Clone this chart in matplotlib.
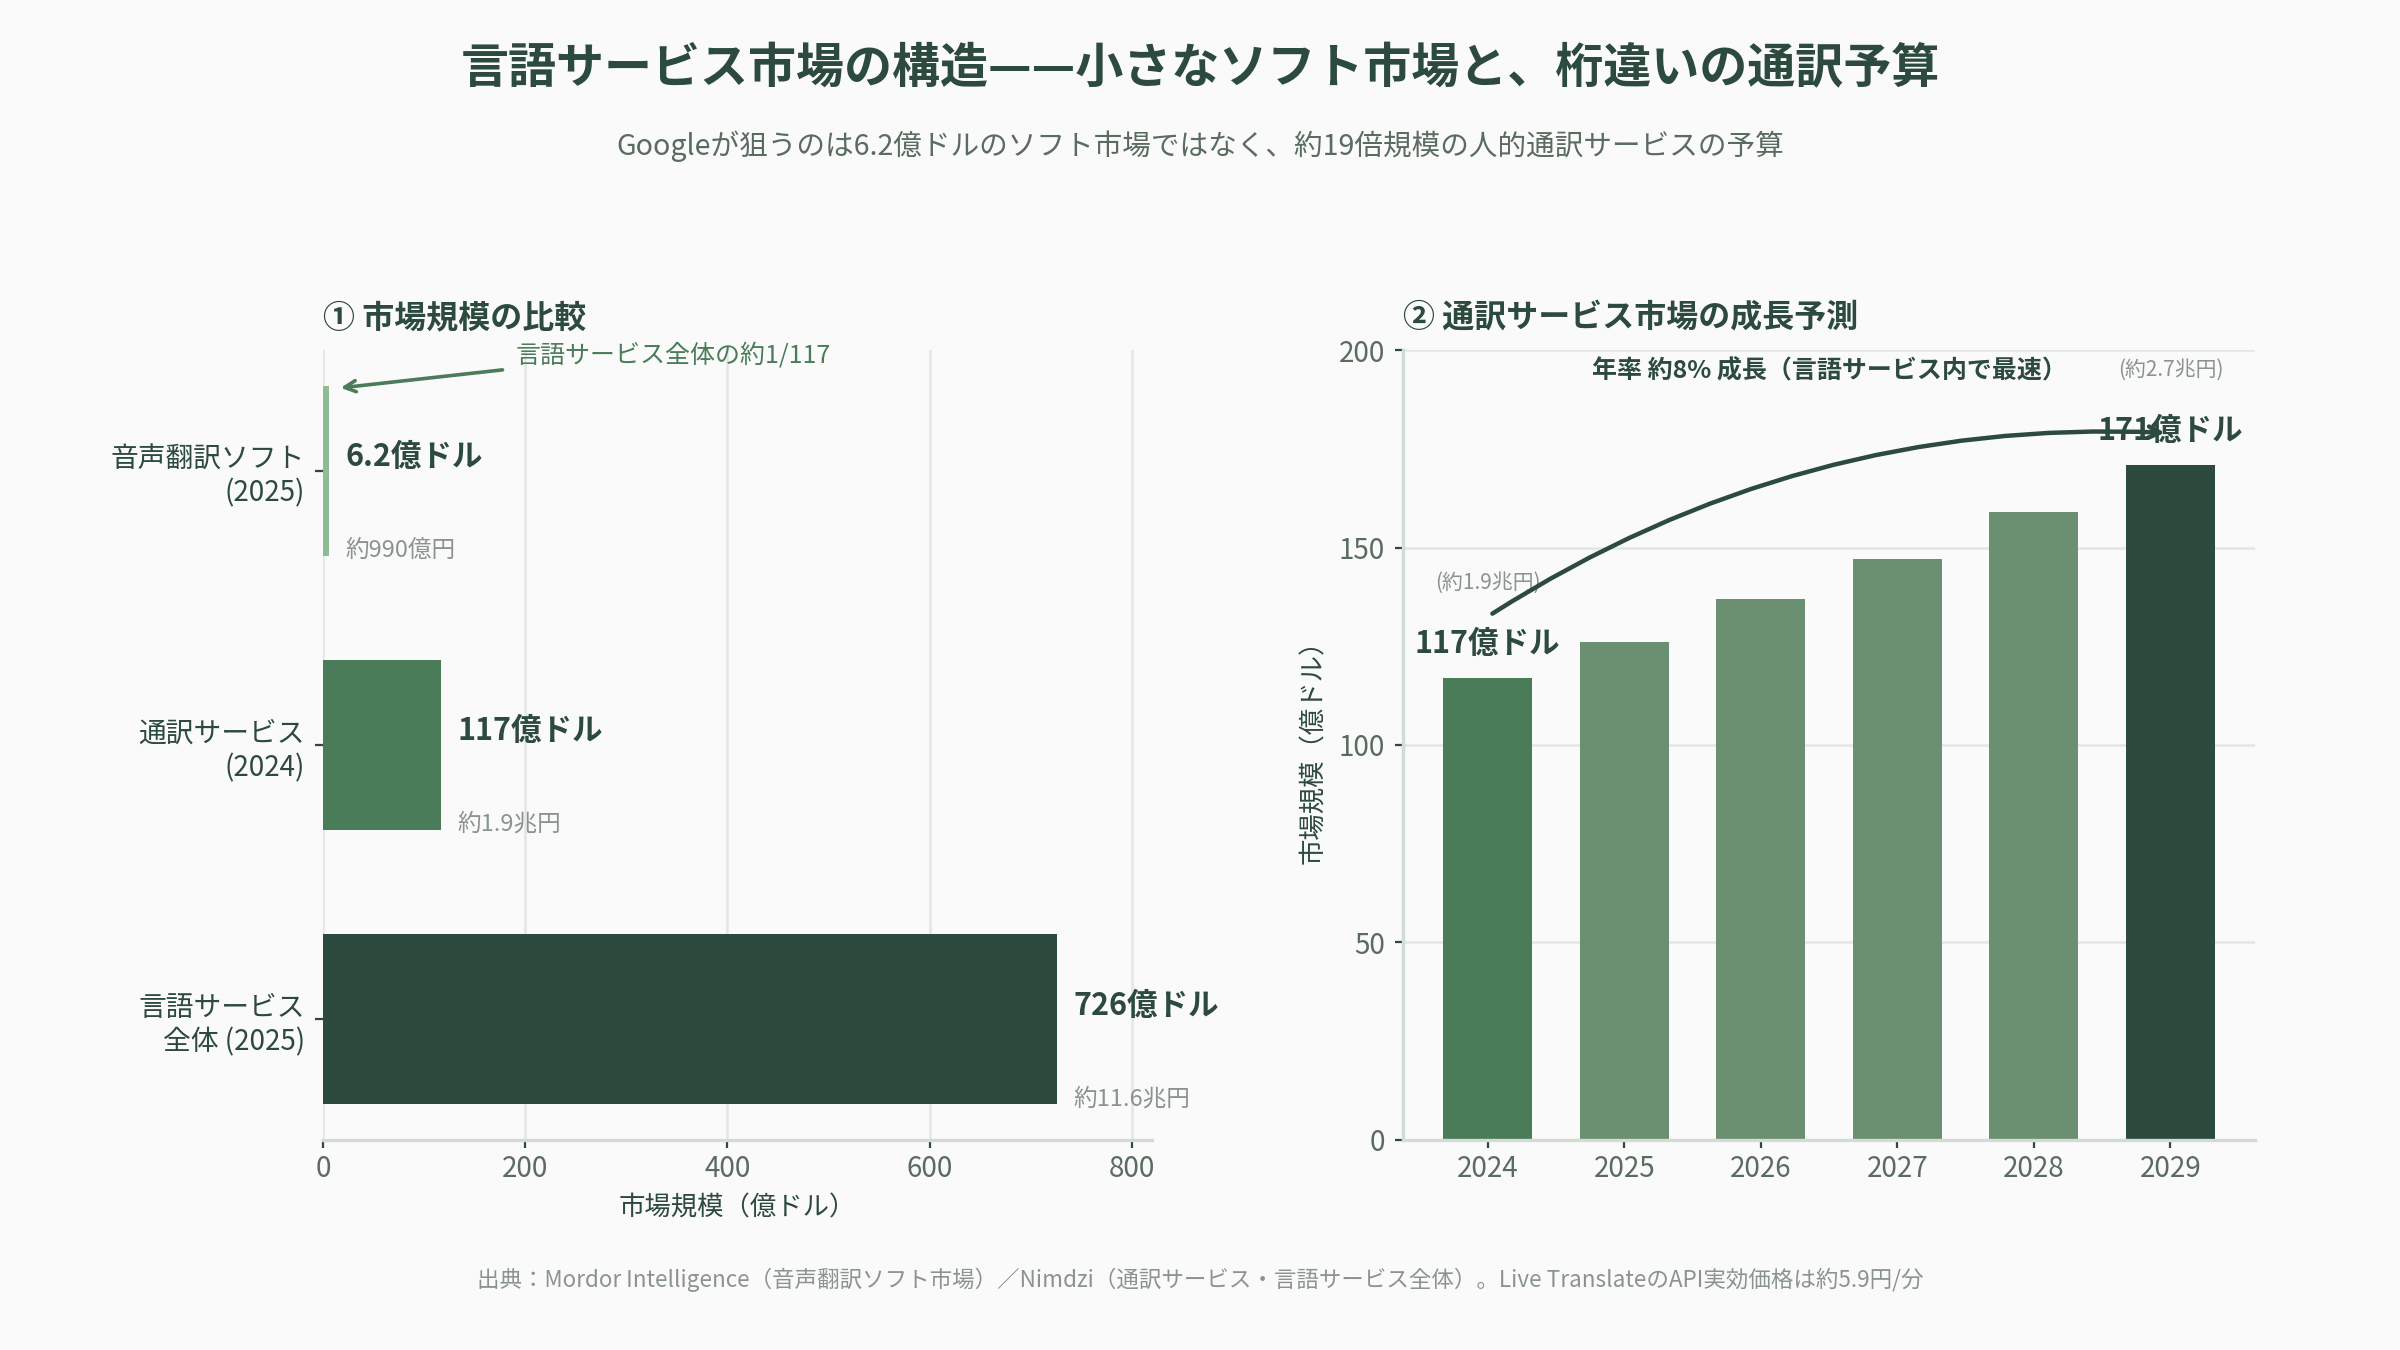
# 言語サービス市場の構造: 市場規模の比較と通訳サービス市場の成長予測
import matplotlib.pyplot as plt

plt.rcParams['font.family'] = ['Noto Sans CJK JP', 'DejaVu Sans']

# データ
market_labels = ['音声翻訳ソフト\n(2025)', '通訳サービス\n(2024)', '言語サービス\n全体 (2025)']
market_values = [6.2, 117, 726]
market_value_text = ['6.2億ドル', '117億ドル', '726億ドル']
market_yen_text = ['約990億円', '約1.9兆円', '約11.6兆円']

years = ['2024', '2025', '2026', '2027', '2028', '2029']
interp_values = [117, 126, 137, 147, 159, 171]

# 色
bg = '#fafafa'
dark = '#2d4a3e'
mid = '#4a7c59'
soft = '#6b8f71'
light = '#8fbc94'
gray = '#5a6b60'
lightgray = '#8a948d'
gridc = '#e3e7e4'
spinec = '#d3dbd5'

market_colors = [light, mid, dark]
year_colors = [mid, soft, soft, soft, soft, dark]

fig = plt.figure(figsize=(12, 6.75), dpi=200, facecolor=bg)

fig.text(0.5, 0.949, '言語サービス市場の構造\u2014\u2014小さなソフト市場と、桁違いの通訳予算',
         ha='center', va='center', fontsize=17.3, fontweight='bold', color=dark)
fig.text(0.5, 0.892, 'Googleが狙うのは6.2億ドルのソフト市場ではなく、約19倍規模の人的通訳サービスの予算',
         ha='center', va='center', fontsize=10.3, color=gray)
fig.text(0.5, 0.052, '出典：Mordor Intelligence（音声翻訳ソフト市場）／Nimdzi（通訳サービス・言語サービス全体）。Live TranslateのAPI実効価格は約5.9円/分',
         ha='center', va='center', fontsize=8.1, color=lightgray)

# ① 市場規模の比較
ax1 = fig.add_axes([0.1346, 0.1556, 0.3454, 0.5851])
ax1.set_facecolor(bg)
ypos = list(range(len(market_labels)))
ax1.barh(ypos, market_values, height=0.62, color=market_colors, zorder=2)
ax1.set_ylim(2.44, -0.44)
ax1.set_xlim(0, 820)
ax1.set_xticks([0, 200, 400, 600, 800])
ax1.set_yticks(ypos)
ax1.set_yticklabels(market_labels, fontsize=10, color=dark)
ax1.tick_params(axis='x', labelsize=10, labelcolor=gray, color=dark, length=3, pad=2)
ax1.tick_params(axis='y', color=dark, length=3)
ax1.grid(axis='x', color=gridc, lw=0.9, zorder=0)
for s in ['top', 'right', 'left']:
    ax1.spines[s].set_visible(False)
ax1.spines['bottom'].set_color(spinec)
ax1.spines['bottom'].set_linewidth(1.2)
ax1.set_xlabel('市場規模（億ドル）', fontsize=9.5, color=dark, labelpad=4)
ax1.set_title('① 市場規模の比較', loc='left', fontsize=11.5, fontweight='bold', color=dark, pad=8)

for i, v in enumerate(market_values):
    ax1.text(v + 16, i - 0.05, market_value_text[i], ha='left', va='center',
             fontsize=11, fontweight='bold', color=dark)
    ax1.text(v + 16, i + 0.29, market_yen_text[i], ha='left', va='center',
             fontsize=8.5, color=lightgray)

ax1.annotate('', xy=(12, -0.30), xytext=(183, -0.37),
             arrowprops=dict(arrowstyle='->', color=mid, lw=1.3))
ax1.text(191, -0.42, '言語サービス全体の約1/117', ha='left', va='center',
         fontsize=9, color=mid)

# ② 通訳サービス市場の成長予測
ax2 = fig.add_axes([0.5846, 0.1556, 0.355, 0.5851])
ax2.set_facecolor(bg)
xpos = list(range(len(years)))
ax2.bar(xpos, interp_values, width=0.65, color=year_colors, zorder=2)
ax2.set_xlim(-0.62, 5.62)
ax2.set_ylim(0, 200)
ax2.set_yticks([0, 50, 100, 150, 200])
ax2.set_xticks(xpos)
ax2.set_xticklabels(years)
ax2.tick_params(labelsize=10, labelcolor=gray, color=dark, length=3)
ax2.tick_params(axis='x', pad=2)
ax2.grid(axis='y', color=gridc, lw=0.9, zorder=0)
for s in ['top', 'right']:
    ax2.spines[s].set_visible(False)
for s in ['left', 'bottom']:
    ax2.spines[s].set_color(spinec)
    ax2.spines[s].set_linewidth(1.2)
ax2.set_ylabel('市場規模（億ドル）', fontsize=9.5, color=dark, labelpad=4)
ax2.set_title('② 通訳サービス市場の成長予測', loc='left', fontsize=11.5, fontweight='bold', color=dark, pad=8)

ax2.text(0, interp_values[0] + 8.5, '117億ドル', ha='center', va='center',
         fontsize=11, fontweight='bold', color=dark)
ax2.text(5, interp_values[-1] + 8.5, '171億ドル', ha='center', va='center',
         fontsize=11, fontweight='bold', color=dark)
ax2.text(0, interp_values[0] + 24, '(約1.9兆円)', ha='center', va='center',
         fontsize=7.5, color=lightgray)
ax2.text(5, interp_values[-1] + 24, '(約2.7兆円)', ha='center', va='center',
         fontsize=7.5, color=lightgray)
ax2.text(2.5, 194.5, '年率 約8% 成長（言語サービス内で最速）', ha='center', va='center',
         fontsize=9, fontweight='bold', color=dark)

ax2.annotate('', xy=(5, 179), xytext=(0, 132.5),
             arrowprops=dict(arrowstyle='->', connectionstyle='arc3,rad=-0.16',
                             color=dark, lw=1.6))

fig.savefig('out.png', dpi=200, facecolor=bg)
